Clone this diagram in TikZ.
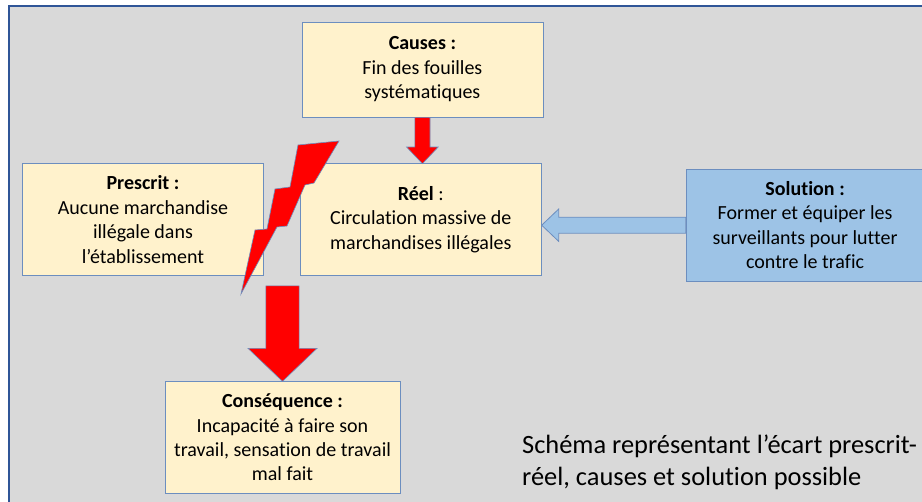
\documentclass[tikz,border=0pt]{standalone}
\usepackage{fontspec}
\setmainfont{Carlito}[Ligatures={TeX,NoCommon}]
\usepackage{tikz}
\usetikzlibrary{positioning}
\definecolor{bg-grey}{HTML}{D9D9D9}
\definecolor{bg-line}{HTML}{2F5597}
\definecolor{box-yellow}{HTML}{FFF2CC}
\definecolor{box-blue}{HTML}{9DC3E6}
\definecolor{edge-blue}{HTML}{6C8EBF}
\begin{document}
\begin{tikzpicture}
[
x=1pt, y=1pt,
box-a/.style={rectangle,draw=edge-blue,fill=box-yellow,line width=0.8pt,align=center,minimum width=241pt,minimum height=111.5pt,inner sep=2pt,font=\fontsize{20}{24.4}\selectfont},
box-b/.style={box-a,fill=box-blue,minimum width=238pt},
arrow-a/.style={draw=edge-blue,fill=red,line width=0.6pt},
arrow-b/.style={draw=edge-blue,fill=box-blue,line width=0.8pt},
text-a/.style={black,align=left,inner sep=0pt,font=\fontsize{26.4}{32}\selectfont},
]
\useasboundingbox (0,0) rectangle (922,-502);
\draw [fill=bg-grey, draw=bg-line, line width=1.2pt] (9,-6) rectangle (930,-510);
\node (b1) [box-a] at (143,-219.5)                         {\textbf{Prescrit :}\\Aucune marchandise\\illégale dans\\l’établissement};
\node (b2) [box-a, right = 36pt of b1]                     {\textbf{Réel} :\\Circulation massive de\\marchandises illégales};
\node (b3) [box-a, above = 46pt of b2, minimum height=95pt, xshift=1.6pt] {\textbf{Causes :}\\Fin des fouilles\\systématiques};
\node (b4) [box-b, right = 144pt of b2, yshift=-5.7pt]     {\textbf{Solution :}\\Former et équiper les\\surveillants pour lutter\\contre le trafic};
\node (b5) [box-a, minimum width=235pt] at (282.5,-437.5)  {\textbf{Conséquence :}\\Incapacité à faire son\\travail, sensation de travail\\mal fait};
\node (t1) [text-a, anchor=base west] at (522,-486)        {Schéma représentant l’écart prescrit-\\réel, causes et solution possible};
\draw [arrow-a] ([xshift=-7.6pt]b3.south) -- ++(0,-29.7) -- ++(-8.2,0) -- ++(15.8,-16.6) -- ++(15.8,16.6) -- ++(-8.2,0) -- ++(0,29.7) -- cycle;
\draw [arrow-a] (b5.north) -- ++(34.5,33) -- ++(-17.9,0) -- ++(0,62.5) -- ++(-33.2,0) -- ++(0,-62.5) -- ++(-17.9,0) -- cycle;
\draw [arrow-b] (b2.east |- b4.west) -- ++(17,16.2) -- ++(0,-8.2) -- ([yshift=8pt]b4.west) -- ([yshift=-8pt]b4.west) -- ++(-127,0) -- ++(0,-8.2) -- cycle;
\draw [arrow-a] (298,-145) -- (339,-141) -- (314,-183) -- (305,-185) -- (287,-226) -- (277,-227) -- (241,-294) -- (255,-230) -- (267,-229) -- (275,-189) -- (290,-187) -- cycle;
\end{tikzpicture}
\end{document}
